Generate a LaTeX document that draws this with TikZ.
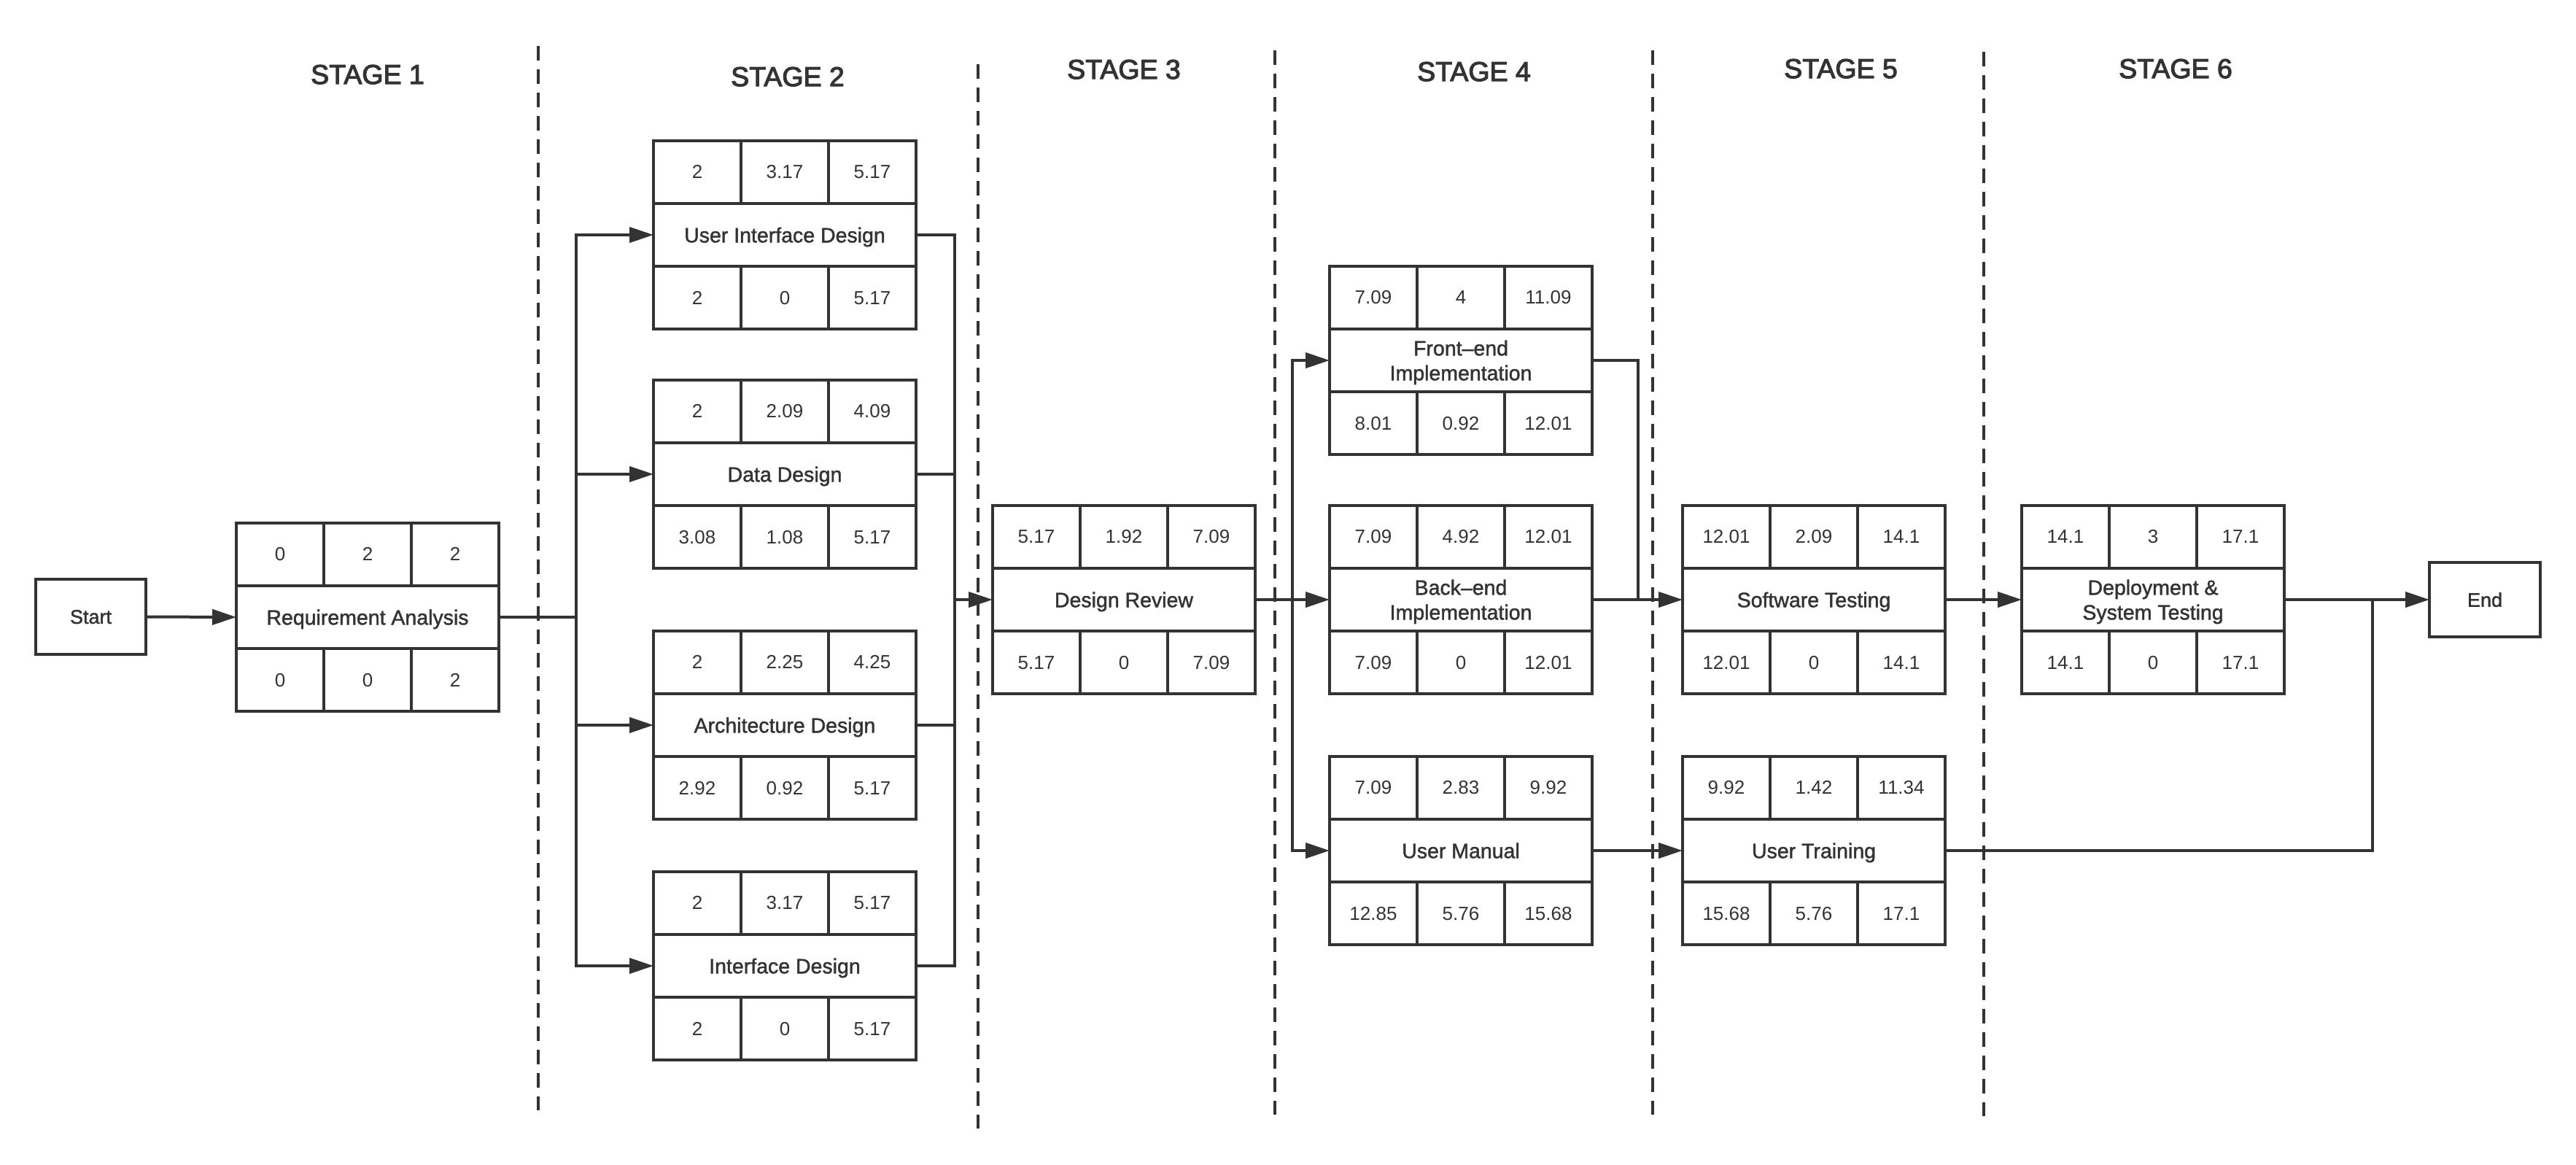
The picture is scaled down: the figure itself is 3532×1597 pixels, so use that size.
\documentclass[tikz,border=0pt]{standalone}
\usepackage{fontspec}
\setmainfont{Liberation Sans}
\newfontfamily\stagefont{Liberation Sans}[FakeBold=3]
\newfontfamily\labelfont{Liberation Sans}[FakeBold=1.5]
\usetikzlibrary{arrows.meta,calc}
\definecolor{ink}{HTML}{333333}
\tikzset{
  boxline/.style={draw=ink, line width=4pt},
  cell/.style={boxline, outer sep=0pt, inner sep=0pt, minimum width=120pt, minimum height=86.3pt, text=ink, font=\fontsize{26}{31}\selectfont, text depth=0pt},
  midbox/.style={boxline, outer sep=0pt, inner sep=0pt, minimum width=360pt, minimum height=86.3pt, text=ink, font=\labelfont\fontsize{28.5}{34}\selectfont, align=center, text depth=0pt},
  termbox/.style={boxline, outer sep=0pt, inner sep=0pt, minimum width=151pt, minimum height=103pt, text=ink, font=\labelfont\fontsize{27}{32}\selectfont, text depth=0pt},
  stagelabel/.style={text=ink, font=\stagefont\fontsize{37.5}{45}\selectfont, text depth=0pt, inner sep=0pt},
  divider/.style={draw=ink, line width=4pt, dash pattern=on 20pt off 12pt},
  conn/.style={draw=ink, line width=4pt},
  arr/.style={conn, -{Triangle[length=33pt, width=21pt]}},
}
\newcommand{\actbox}[9]{%
  \node[midbox] (#1) at #2 {#3};
  \node[cell, anchor=south west] (#1-a) at (#1.north west) {#4};
  \node[cell, anchor=south west] (#1-b) at (#1-a.south east) {#5};
  \node[cell, anchor=south west] (#1-c) at (#1-b.south east) {#6};
  \node[cell, anchor=north west] (#1-d) at (#1.south west) {#7};
  \node[cell, anchor=north west] (#1-e) at (#1-d.north east) {#8};
  \node[cell, anchor=north west] (#1-f) at (#1-e.north east) {#9};
}
\begin{document}
\begin{tikzpicture}[x=1pt,y=-1pt]
\useasboundingbox (0,0) rectangle (3532,1597);

% stage dividers
\draw[divider] (737.5,63) -- (737.5,1522);
\draw[divider] (1341,88) -- (1341,1547);
\draw[divider] (1748,69) -- (1748,1528);
\draw[divider] (2266,69) -- (2266,1528);
\draw[divider] (2720,71) -- (2720,1530);

% stage labels
\node[stagelabel] (s1) at (504,102) {STAGE 1};
\node[stagelabel] (s2) at (1080,105) {STAGE 2};
\node[stagelabel] (s3) at (1541,95) {STAGE 3};
\node[stagelabel] (s4) at (2021,98) {STAGE 4};
\node[stagelabel] (s5) at (2524,94) {STAGE 5};
\node[stagelabel] (s6) at (2983,94) {STAGE 6};

% terminals
\node[termbox] (start) at (124.5,845.5) {Start};
\node[termbox, minimum width=152pt, minimum height=102pt] (end) at (3407,822) {End};

% activities
\actbox{req}{(504,846)}{Requirement Analysis}{0}{2}{2}{0}{0}{2}
\actbox{uid}{(1076,322)}{User Interface Design}{2}{3.17}{5.17}{2}{0}{5.17}
\actbox{dd}{(1076,650)}{Data Design}{2}{2.09}{4.09}{3.08}{1.08}{5.17}
\actbox{ad}{(1076,994)}{Architecture Design}{2}{2.25}{4.25}{2.92}{0.92}{5.17}
\actbox{ifd}{(1076,1324)}{Interface Design}{2}{3.17}{5.17}{2}{0}{5.17}
\actbox{dr}{(1541,822)}{Design Review}{5.17}{1.92}{7.09}{5.17}{0}{7.09}
\actbox{fe}{(2003,494)}{Front–end\\Implementation}{7.09}{4}{11.09}{8.01}{0.92}{12.01}
\actbox{be}{(2003,822)}{Back–end\\Implementation}{7.09}{4.92}{12.01}{7.09}{0}{12.01}
\actbox{um}{(2003,1166)}{User Manual}{7.09}{2.83}{9.92}{12.85}{5.76}{15.68}
\actbox{st}{(2487,822)}{Software Testing}{12.01}{2.09}{14.1}{12.01}{0}{14.1}
\actbox{ut}{(2487,1166)}{User Training}{9.92}{1.42}{11.34}{15.68}{5.76}{17.1}
\actbox{dep}{(2952,822)}{Deployment \&\\System Testing}{14.1}{3}{17.1}{14.1}{0}{17.1}

% bus coordinates
\coordinate (b2l) at (790,0);
\coordinate (b2r) at (1309,0);
\coordinate (b4l) at (1772,0);
\coordinate (b4r) at (2246,0);
\coordinate (b6) at (3253,0);

% connectors
\draw[arr] (start.east) -- (req.west);
\draw[conn] (req.east) -- (req.east -| b2l);
\draw[arr] (req.east -| b2l) |- (uid.west);
\draw[arr] (req.east -| b2l) |- (dd.west);
\draw[arr] (req.east -| b2l) |- (ad.west);
\draw[arr] (req.east -| b2l) |- (ifd.west);

\draw[conn] (uid.east) -| (b2r |- dr.west);
\draw[conn] (dd.east) -| (b2r |- dr.west);
\draw[conn] (ad.east) -| (b2r |- dr.west);
\draw[conn] (ifd.east) -| (b2r |- dr.west);
\draw[arr] (b2r |- dr.west) -- (dr.west);

\draw[conn] (dr.east) -- (dr.east -| b4l);
\draw[arr] (dr.east -| b4l) |- (fe.west);
\draw[arr] (dr.east -| b4l) -- (be.west);
\draw[arr] (dr.east -| b4l) |- (um.west);

\draw[conn] (fe.east) -| (b4r |- be.east);
\draw[arr] (be.east) -- (st.west);
\draw[arr] (um.east) -- (ut.west);
\draw[arr] (st.east) -- (dep.west);
\draw[arr] (dep.east) -- (end.west);
\draw[conn] (ut.east) -| (b6 |- dep.east);
\end{tikzpicture}
\end{document}
